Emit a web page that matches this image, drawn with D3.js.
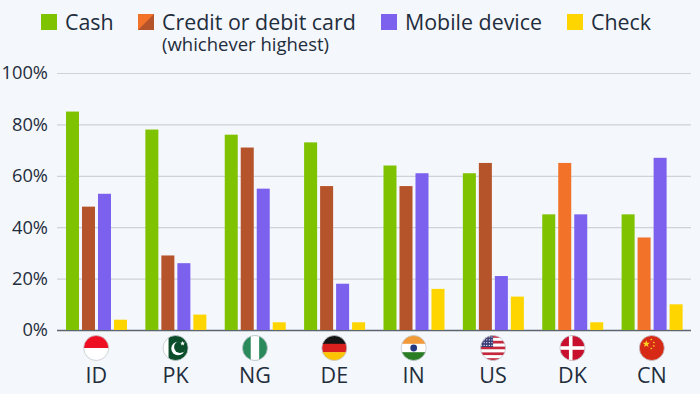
<!DOCTYPE html>
<html>
<head>
<meta charset="utf-8">
<script src="https://cdn.jsdelivr.net/npm/d3@7"></script>
<style>
    html, body { margin: 0; padding: 0; background: #f4f7fb; }
    svg { display: block; }
    text { font-family: "Open Sans", "Noto Sans", sans-serif; fill: #1f2d3d; }
</style>
</head>
<body>
<div id="chart"></div>
<script>
const countries = ['ID', 'PK', 'NG', 'DE', 'IN', 'US', 'DK', 'CN'];
const seriesNames = ['Cash', 'Credit or debit card', 'Mobile device', 'Check'];
const cash = [85, 78, 76, 73, 64, 61, 45, 45];
const card = [48, 29, 71, 56, 56, 65, 65, 36];
// true where the highest value is the debit card (orange), otherwise credit (brown)
const cardIsDebit = [false, false, false, false, false, false, true, true];
const mobile = [53, 26, 55, 18, 61, 21, 45, 67];
const check = [4, 6, 3, 3, 16, 13, 3, 10];
const yTicks = [0, 20, 40, 60, 80, 100];

const colors = { cash: '#7fc200', credit: '#b5532a', debit: '#f27229', mobile: '#7b61ee', check: '#ffd500' };

const width = 700;
const height = 394;

const svg = d3.select('#chart').append('svg').attr('width', width).attr('height', height);

const x = d3.scaleBand().domain(countries).range([56.5, 691.5]);
const inner = d3.scaleBand().domain(seriesNames).range([x.bandwidth() / 2 - 30.2, x.bandwidth() / 2 + 30.8]).paddingInner(0.1875).paddingOuter(0);
const y = d3.scaleLinear().domain([0, 100]).range([330, 73]);

// grid lines and y labels
const yAxis = svg.append('g')
    .attr('transform', 'translate(57,0)')
    .call(d3.axisLeft(y).tickValues(yTicks).tickSize(-634).tickFormat(d => d + '%'));
yAxis.select('.domain').remove();
yAxis.selectAll('.tick line').attr('stroke', '#ccd3da').attr('stroke-width', 1.2);
yAxis.selectAll('.tick text').style('font-size', '18.3px').attr('x', -9);
yAxis.selectAll('.tick').filter(d => d === 0).select('line').attr('stroke', '#5c6670').attr('stroke-width', 1.5);

// bars
const groups = svg.selectAll('.group')
    .data(countries)
    .join('g')
    .attr('class', 'group')
    .attr('transform', d => `translate(${x(d)},0)`);

const barData = (c, i) => [
    { name: seriesNames[0], value: cash[i], color: colors.cash },
    { name: seriesNames[1], value: card[i], color: cardIsDebit[i] ? colors.debit : colors.credit },
    { name: seriesNames[2], value: mobile[i], color: colors.mobile },
    { name: seriesNames[3], value: check[i], color: colors.check }
];

groups.selectAll('rect')
    .data(barData)
    .join('rect')
    .attr('x', d => inner(d.name))
    .attr('y', d => y(d.value))
    .attr('width', inner.bandwidth())
    .attr('height', d => y(0) - y(d.value))
    .attr('fill', d => d.color);

// flags
const flagY = 348;
const flagR = 12.5;
const defs = svg.append('defs');
defs.append('clipPath').attr('id', 'flagClip').append('circle').attr('r', flagR);

function band(g, fill, bx, by, w, h) {
    g.append('rect').attr('x', bx).attr('y', by).attr('width', w).attr('height', h).attr('fill', fill);
}

function star(g, cx, cy, r, fill) {
    const pts = d3.range(10).map(i => {
        const a = -Math.PI / 2 + i * Math.PI / 5;
        const rr = i % 2 ? r * 0.42 : r;
        return [cx + rr * Math.cos(a), cy + rr * Math.sin(a)];
    });
    g.append('path').attr('d', d3.line()(pts) + 'Z').attr('fill', fill);
}

const flags = {
    ID(g) {
        band(g, '#ffffff', -13, -13, 26, 26);
        band(g, '#ee0f22', -13, -13, 26, 13);
    },
    PK(g) {
        band(g, '#ffffff', -13, -13, 26, 26);
        band(g, '#0b4d2a', -7, -13, 20, 26);
        g.append('circle').attr('cx', 2.5).attr('cy', 0.5).attr('r', 6.8).attr('fill', '#ffffff');
        g.append('circle').attr('cx', 4.5).attr('cy', -1).attr('r', 6).attr('fill', '#0b4d2a');
        star(g, 7, -4.5, 2.6, '#ffffff');
    },
    NG(g) {
        band(g, '#2a8a5c', -13, -13, 26, 26);
        band(g, '#ffffff', -4.2, -13, 8.4, 26);
    },
    DE(g) {
        band(g, '#141414', -13, -13, 26, 9);
        band(g, '#d9201f', -13, -4.2, 26, 8.6);
        band(g, '#fdc400', -13, 4.2, 26, 9);
    },
    IN(g) {
        band(g, '#f39a38', -13, -13, 26, 9);
        band(g, '#ffffff', -13, -4.2, 26, 8.6);
        band(g, '#2a7d23', -13, 4.2, 26, 9);
        g.append('circle').attr('r', 3.4).attr('fill', '#24397f');
    },
    US(g) {
        d3.range(9).forEach(i => band(g, i % 2 ? '#ffffff' : '#c5273d', -13, -13 + i * 2.9, 26, 2.9));
        band(g, '#3b3f78', -13, -13, 13, 12);
        d3.range(4).forEach(r => d3.range(5).forEach(c => {
            g.append('circle').attr('cx', -11.5 + c * 2.6).attr('cy', -11 + r * 2.8).attr('r', 0.6).attr('fill', '#ffffff');
        }));
    },
    DK(g) {
        band(g, '#c8102e', -13, -13, 26, 26);
        band(g, '#ffffff', -3.5, -13, 3.6, 26);
        band(g, '#ffffff', -13, -1.8, 26, 3.6);
    },
    CN(g) {
        band(g, '#d62a17', -13, -13, 26, 26);
        star(g, -5.5, -4, 3.8, '#ffd21f');
        star(g, -0.5, -8.5, 1.3, '#ffd21f');
        star(g, 2, -5.5, 1.3, '#ffd21f');
        star(g, 2, -2, 1.3, '#ffd21f');
        star(g, -0.5, 0.5, 1.3, '#ffd21f');
    }
};

const flagGroups = svg.selectAll('.flag')
    .data(countries)
    .join('g')
    .attr('class', 'flag')
    .attr('transform', d => `translate(${x(d) + x.bandwidth() / 2},${flagY})`);

flagGroups.each(function (d) {
    const clipped = d3.select(this).append('g').attr('clip-path', 'url(#flagClip)');
    flags[d](clipped);
});
flagGroups.append('circle').attr('r', flagR).attr('fill', 'none').attr('stroke', '#c3c8ce').attr('stroke-width', 0.8);

// country labels
svg.selectAll('.country')
    .data(countries)
    .join('text')
    .attr('class', 'country')
    .attr('x', d => x(d) + x.bandwidth() / 2)
    .attr('y', 383)
    .attr('text-anchor', 'middle')
    .style('font-size', '21.5px')
    .text(d => d);

// legend
const legendItems = [
    { name: seriesNames[0], color: colors.cash, box: 41, label: 65 },
    { name: seriesNames[1], color: colors.debit, box: 138, label: 162, note: '(whichever highest)' },
    { name: seriesNames[2], color: colors.mobile, box: 381, label: 405 },
    { name: seriesNames[3], color: colors.check, box: 567, label: 591 }
];
const legend = svg.selectAll('.legend').data(legendItems).join('g').attr('class', 'legend');
legend.append('rect')
    .attr('x', d => d.box).attr('y', 14)
    .attr('width', 16).attr('height', 16)
    .attr('fill', d => d.color);

const legendText = legend.append('text')
    .attr('x', d => d.label).attr('y', 29.5)
    .style('font-size', '21.4px');
legendText.append('tspan').text(d => d.name);
// second line stays in the same text element as the card label
legendText.filter(d => d.note)
    .append('tspan')
    .attr('x', d => d.label)
    .attr('dy', 21.5)
    .style('font-size', '18.5px')
    .text(d => d.note);

// half brown corner of the card swatch
const swatch = legendItems[1];
svg.append('path')
    .attr('d', d3.line()([[swatch.box + 16, 14], [swatch.box + 16, 30], [swatch.box, 30]]) + 'Z')
    .attr('fill', colors.credit);
</script>
</body>
</html>
